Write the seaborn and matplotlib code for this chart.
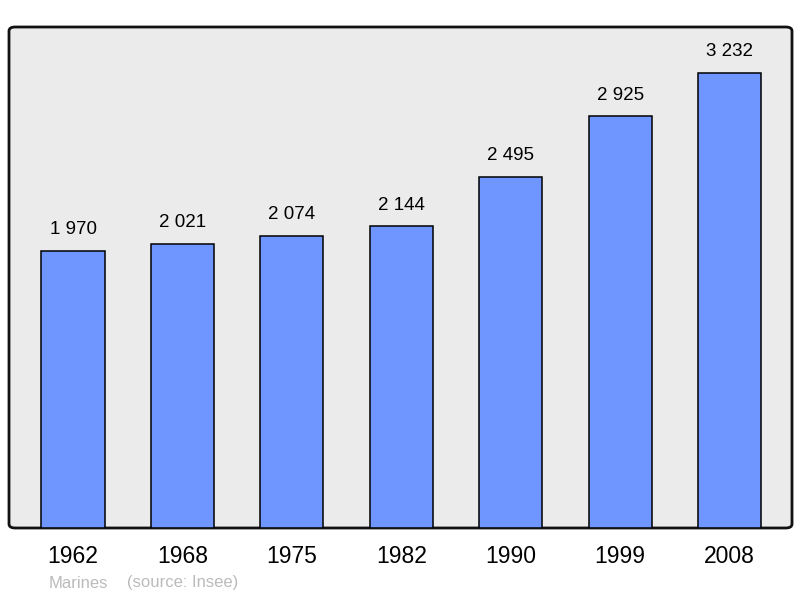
import seaborn as sns
import pandas as pd
import matplotlib.pyplot as plt
from matplotlib.patches import FancyBboxPatch

# population data (Insee)
years = ['1962', '1968', '1975', '1982', '1990', '1999', '2008']
population = [1970, 2021, 2074, 2144, 2495, 2925, 3232]
labels = ['1 970', '2 021', '2 074', '2 144', '2 495', '2 925', '3 232']

df = pd.DataFrame({'year': years, 'pop': population})

sns.set_style('white')
plt.rcParams['font.family'] = ['Liberation Sans', 'DejaVu Sans']

fig = plt.figure(figsize=(8, 5.98), dpi=100)
ax = fig.add_axes([9/800, 1-528/598, 783/800, 501/598])
ax.set_facecolor('none')

# rounded background frame
frame = FancyBboxPatch((0, 0), 1, 1, boxstyle='round,pad=0,rounding_size=0.008',
                       transform=ax.transAxes, facecolor='#ebebeb',
                       edgecolor='#111111', linewidth=2, zorder=0, clip_on=False)
ax.add_patch(frame)

sns.barplot(x='year', y='pop', data=df, color='#6f96ff', saturation=1,
            width=0.576, edgecolor='black', linewidth=1.1, ax=ax, zorder=2)

for i, v in enumerate(population):
    ax.text(i, v + 150, labels[i], ha='center', va='center', fontsize=13.5, color='black')

ax.set_xlim(-0.585, 6.571)
ax.set_ylim(0, 3559)
for s in ax.spines.values():
    s.set_visible(False)
ax.set_yticks([])
ax.set_xlabel('')
ax.set_ylabel('')
ax.tick_params(axis='x', length=0, pad=12, labelsize=16.5, labelcolor='black')

fig.text(49/800, 1-583/598, 'Marines', color='#bbbbbb', fontsize=12, va='center', ha='left')
fig.text(127/800, 1-583/598, '(source: Insee)', color='#bbbbbb', fontsize=12, va='center', ha='left')

plt.savefig('out.png', dpi=100)
